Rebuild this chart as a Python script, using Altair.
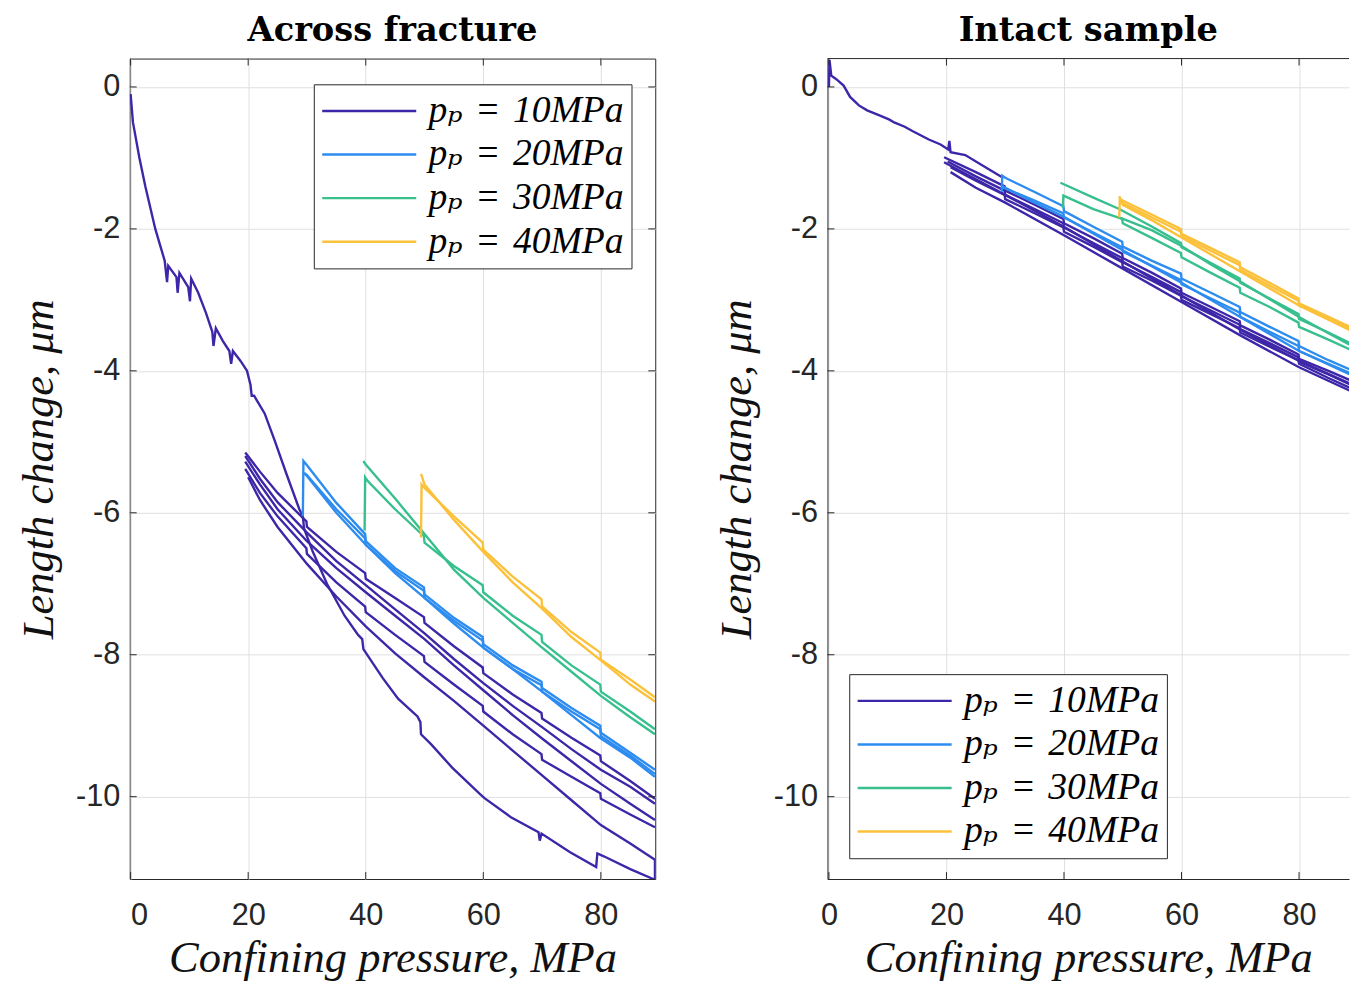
import altair as alt
import pandas as pd

# ---------------- data ----------------
PP_NAMES = ["p\u209a\u2004=\u200410MPa", "p\u209a\u2004=\u200420MPa",
            "p\u209a\u2004=\u200430MPa", "p\u209a\u2004=\u200440MPa"]
PP_COLORS = ["#3e26a8", "#2d8cf0", "#37bf8d", "#fbc13a"]
X_TICKS = [0, 20, 40, 60, 80]
Y_TICKS = [0, -2, -4, -6, -8, -10]
Y_DOMAIN = [-11.16, 0.40]
X_DOMAIN_LEFT = [-0.15, 89.25]
X_DOMAIN_RIGHT = [-0.25, 88.5]

# ---- Across fracture (left) ----
L_P10_FIRST = [(0.0, -0.1), (0.4, -0.5), (1.5, -1.0), (2.5, -1.4), (4.2, -2.0), (5.8, -2.45),
               (6.2, -2.75), (6.4, -2.52), (7.8, -2.68), (8.0, -2.9), (8.3, -2.62), (9.8, -2.82),
               (10.1, -3.02), (10.3, -2.7), (11.5, -2.9), (12.8, -3.18), (13.9, -3.45), (14.1, -3.65),
               (14.5, -3.4), (15.7, -3.58), (16.8, -3.72), (17.1, -3.9), (17.4, -3.72), (18.7, -3.86),
               (19.8, -4.0), (20.4, -4.2), (20.6, -4.35), (21.0, -4.35), (22.8, -4.6), (24.5, -4.98),
               (26.5, -5.45), (28.7, -5.95), (29.3, -6.05), (29.5, -6.22), (31.0, -6.55), (33.4, -7.0),
               (36.4, -7.45), (38.7, -7.72), (39.4, -7.78), (39.6, -7.92), (42.9, -8.33), (45.5, -8.62),
               (48.8, -8.87), (49.3, -8.95), (49.4, -9.12), (51.1, -9.26), (54.7, -9.59), (59.4, -9.96),
               (60.2, -10.02), (64.7, -10.29), (69.4, -10.5), (69.6, -10.62), (69.9, -10.52), (74.7, -10.78),
               (79.2, -10.99), (79.4, -10.8), (80.5, -10.84), (85.0, -11.02), (89.2, -11.17), (89.2, -10.89)]
L_P10_C1 = [(19.5, -5.15), (22, -5.42), (25, -5.72), (29.9, -6.12), (30, -6.2), (35, -6.55), (39.9, -6.85),
            (40, -6.93), (45, -7.2), (49.9, -7.47), (50, -7.55), (55, -7.88), (59.9, -8.18), (60, -8.26),
            (65, -8.56), (69.9, -8.82), (70, -8.9), (75, -9.17), (79.9, -9.42), (80, -9.5), (85, -9.78),
            (89.2, -10.03)]
L_P10_C2 = [(89.2, -10.1), (85, -9.86), (80, -9.62), (75, -9.33), (70, -9.02), (65, -8.72), (60, -8.4),
            (55, -8.06), (50, -7.7), (45, -7.36), (40, -7.02), (35, -6.68), (30, -6.28), (25, -5.85),
            (22, -5.52), (19.5, -5.2)]
L_P10_C3 = [(19.5, -5.38), (22, -5.72), (25, -6.05), (29.9, -6.5), (30, -6.58), (35, -6.98), (39.9, -7.32),
            (40, -7.4), (45, -7.72), (49.9, -8.02), (50, -8.1), (55, -8.42), (59.9, -8.72), (60, -8.8),
            (65, -9.12), (69.9, -9.4), (70, -9.48), (75, -9.72), (79.9, -9.95), (80, -10.03), (85, -10.25),
            (89.2, -10.43)]
L_P10_C4 = [(89.2, -10.33), (85, -10.1), (80, -9.82), (75, -9.5), (70, -9.18), (65, -8.85), (60, -8.5),
            (55, -8.15), (50, -7.78), (45, -7.45), (40, -7.12), (35, -6.78), (30, -6.4), (25, -5.95),
            (22, -5.6), (19.5, -5.28)]
L_P10_C5 = [(89.2, -10.89), (85, -10.66), (80, -10.4), (75, -10.05), (70, -9.7), (65, -9.35), (60, -9.0),
            (55, -8.65), (50, -8.32), (45, -7.98), (40, -7.6), (35, -7.18), (30, -6.72), (25, -6.2),
            (22, -5.82), (20, -5.5)]
L_P20_B1 = [(29.3, -6.05), (29.4, -5.27), (30.0, -5.33), (35, -5.86), (39.9, -6.3), (40.0, -6.4), (45, -6.78),
            (49.9, -7.05), (50.0, -7.15), (55, -7.48), (59.9, -7.75), (60.0, -7.85), (65, -8.15), (69.9, -8.38),
            (70.0, -8.47), (75, -8.75), (79.9, -9.0), (80.0, -9.1), (85, -9.38), (89.2, -9.62)]
L_P20_B2 = [(89.2, -9.72), (85, -9.45), (80, -9.18), (75, -8.85), (70, -8.52), (65, -8.2), (60, -7.9),
            (55, -7.56), (50, -7.2), (45, -6.85), (40, -6.45), (35, -6.0), (30.0, -5.48), (29.5, -5.44)]
L_P20_B3 = [(29.5, -5.44), (30, -5.47), (35, -5.95), (39.9, -6.36), (40, -6.45), (45, -6.82), (49.9, -7.1),
            (50, -7.2), (55, -7.52), (59.9, -7.8), (60, -7.9), (65, -8.2), (69.9, -8.43), (70, -8.52),
            (75, -8.8), (79.9, -9.05), (80, -9.15), (85, -9.42), (89.2, -9.68)]
L_P30_G1 = [(39.8, -6.25), (39.9, -5.5), (40.3, -5.55), (45, -5.95), (49.9, -6.33), (50.0, -6.42), (55, -6.75),
            (59.9, -7.02), (60.0, -7.12), (65, -7.45), (69.9, -7.72), (70.0, -7.82), (75, -8.15), (79.9, -8.42),
            (80.0, -8.52), (85, -8.8), (89.2, -9.05)]
L_P30_G2 = [(89.2, -9.12), (85, -8.88), (80, -8.58), (75, -8.24), (70, -7.9), (65, -7.55), (60, -7.2),
            (55, -6.8), (50, -6.3), (45, -5.8), (40, -5.32), (39.6, -5.27)]
L_P40_O1 = [(49.4, -6.35), (49.5, -5.6), (50.0, -5.65), (55, -6.05), (59.9, -6.42), (60.0, -6.52), (65, -6.9),
            (69.9, -7.22), (70.0, -7.32), (75, -7.68), (79.9, -7.97), (80.0, -8.07), (85, -8.35), (89.2, -8.6)]
L_P40_O2 = [(89.2, -8.66), (85, -8.42), (80, -8.08), (75, -7.75), (70, -7.35), (65, -6.98), (60, -6.55),
            (55, -6.1), (50, -5.6), (49.4, -5.45)]

# ---- Intact sample (right) ----
R_P10_FIRST = [(0.0, 0.0), (0.1, 0.38), (0.4, 0.16), (0.9, 0.13), (1.4, 0.1), (2.5, 0.02), (3.6, -0.14),
               (5.1, -0.26), (6.5, -0.33), (8.6, -0.4), (10.3, -0.46), (11.1, -0.5), (12.9, -0.56),
               (14.2, -0.62), (17.0, -0.74), (19.0, -0.81), (20.3, -0.88), (20.5, -0.76), (20.7, -0.92),
               (23.2, -0.96), (26.0, -1.1), (29.4, -1.27)]
R_P10_C1 = [(19.6, -0.99), (25, -1.2), (29.9, -1.4), (30, -1.46), (35, -1.66), (39.9, -1.86), (40, -1.92),
            (45, -2.13), (49.9, -2.35), (50, -2.41), (55, -2.62), (59.9, -2.84), (60, -2.9), (65, -3.1),
            (69.9, -3.3), (70, -3.36), (75, -3.56), (79.9, -3.77), (80, -3.83), (85, -4.0), (89.2, -4.15)]
R_P10_C2 = [(89.2, -4.2), (80, -3.86), (70, -3.42), (60, -2.94), (50, -2.46), (40, -1.97), (30, -1.52),
            (25, -1.3), (19.6, -1.06)]
R_P10_C3 = [(20.7, -1.13), (25, -1.32), (29.9, -1.52), (30, -1.58), (35, -1.78), (39.9, -1.98), (40, -2.04),
            (45, -2.25), (49.9, -2.47), (50, -2.53), (55, -2.73), (59.9, -2.94), (60, -3.0), (65, -3.2),
            (69.9, -3.4), (70, -3.46), (75, -3.66), (79.9, -3.85), (80, -3.9), (85, -4.1), (89.2, -4.26)]
R_P10_C4 = [(89.2, -4.3), (80, -3.95), (70, -3.5), (60, -3.03), (50, -2.56), (40, -2.09), (30, -1.63),
            (25, -1.42), (20.7, -1.2)]
R_P10_C5 = [(20.2, -1.05), (25, -1.26), (29.9, -1.46), (30, -1.52), (35, -1.72), (39.9, -1.92), (40, -1.98),
            (45, -2.2), (49.9, -2.41), (50, -2.47), (55, -2.68), (59.9, -2.89), (60, -2.95), (65, -3.15),
            (69.9, -3.35), (70, -3.41), (75, -3.61), (79.9, -3.81), (80, -3.87), (85, -4.05), (89.2, -4.21)]
R_P20_B1 = [(29.4, -1.48), (29.5, -1.25), (30, -1.28), (35, -1.48), (39.9, -1.68), (40, -1.75), (45, -1.97),
            (49.9, -2.18), (50, -2.25), (55, -2.45), (59.9, -2.63), (60, -2.7), (65, -2.9), (69.9, -3.1),
            (70, -3.17), (75, -3.38), (79.9, -3.58), (80, -3.65), (85, -3.85), (89.2, -4.0)]
R_P20_B2 = [(89.2, -4.07), (80, -3.72), (70, -3.24), (60, -2.76), (50, -2.3), (40, -1.83), (35, -1.63),
            (30, -1.42), (29.5, -1.4)]
R_P20_B3 = [(29.5, -1.4), (30, -1.43), (35, -1.6), (39.9, -1.78), (40, -1.84), (45, -2.05), (49.9, -2.26),
            (50, -2.32), (55, -2.52), (59.9, -2.72), (60, -2.78), (65, -2.98), (69.9, -3.18), (70, -3.24),
            (75, -3.45), (79.9, -3.65), (80, -3.72), (85, -3.9), (89.2, -4.05)]
R_P30_G1 = [(39.4, -1.35), (45, -1.56), (49.4, -1.72), (55, -1.97), (59.9, -2.2), (60, -2.26), (65, -2.48),
            (69.9, -2.7), (70, -2.76), (75, -2.98), (79.9, -3.2), (80, -3.27), (85, -3.46), (89.2, -3.63)]
R_P30_G2 = [(39.8, -1.7), (39.9, -1.53), (45, -1.72), (49.9, -1.86), (50, -1.92), (55, -2.13), (59.9, -2.34),
            (60, -2.4), (65, -2.62), (69.9, -2.83), (70, -2.9), (75, -3.1), (79.9, -3.32), (80, -3.38),
            (85, -3.56), (89.2, -3.72)]
R_P30_G3 = [(49.5, -1.84), (55, -2.02), (60, -2.24), (65, -2.5), (70, -2.74), (75, -2.99), (80, -3.24),
            (85, -3.47), (89.2, -3.66)]
R_P40_O1 = [(49.4, -1.84), (49.5, -1.58), (50, -1.6), (55, -1.8), (59.9, -2.0), (60, -2.07), (65, -2.27),
            (69.9, -2.47), (70, -2.54), (75, -2.76), (79.9, -2.98), (80, -3.05), (85, -3.24), (89.2, -3.4)]
R_P40_O2 = [(89.2, -3.45), (80, -3.08), (70, -2.6), (60, -2.12), (55, -1.88), (50, -1.66), (49.4, -1.54)]
R_P40_O3 = [(49.6, -1.62), (55, -1.84), (59.9, -2.04), (60, -2.1), (65, -2.31), (69.9, -2.51), (70, -2.58),
            (75, -2.8), (79.9, -3.01), (80, -3.08), (85, -3.27), (89.2, -3.43)]

LEFT_CURVES = [(0, L_P10_FIRST), (0, L_P10_C1), (0, L_P10_C2), (0, L_P10_C3), (0, L_P10_C4), (0, L_P10_C5),
               (1, L_P20_B1), (1, L_P20_B2), (1, L_P20_B3),
               (2, L_P30_G1), (2, L_P30_G2),
               (3, L_P40_O1), (3, L_P40_O2)]
RIGHT_CURVES = [(0, R_P10_FIRST), (0, R_P10_C1), (0, R_P10_C2), (0, R_P10_C3), (0, R_P10_C4), (0, R_P10_C5),
                (1, R_P20_B1), (1, R_P20_B2), (1, R_P20_B3),
                (2, R_P30_G1), (2, R_P30_G2), (2, R_P30_G3),
                (3, R_P40_O1), (3, R_P40_O2), (3, R_P40_O3)]

# ---------------- styling ----------------
AX = "#262626"
H = 829
W_LEFT = 531
W_RIGHT = 527
SERIF_IT = "Liberation Serif, DejaVu Serif, serif"
TICK_LEN = 7


def to_frame(curves):
    rows = []
    for cid, (k, pts) in enumerate(curves):
        for i, (x, y) in enumerate(pts):
            rows.append({"x": x, "y": y, "pp": PP_NAMES[k], "cid": cid, "i": i})
    return pd.DataFrame(rows)


def panel(curves, title, xdom, width, lx, ly, boxed):
    df = to_frame(curves)
    xaxis = alt.Axis(values=X_TICKS, title="Confining pressure,  MPa", grid=True, ticks=False,
                     domain=not boxed, domainColor=AX, labelExpr="'' + datum.value",
                     labelPadding=22, titlePadding=5, titleFontSize=45)
    yaxis = alt.Axis(values=Y_TICKS, title="Length change,  μm", grid=True, ticks=False,
                     domain=not boxed, domainColor=AX, labelExpr="'' + datum.value",
                     labelPadding=10, titlePadding=14, titleFontSize=45)
    X = alt.X("x:Q", scale=alt.Scale(domain=xdom, nice=False, zero=False), axis=xaxis)
    Y = alt.Y("y:Q", scale=alt.Scale(domain=Y_DOMAIN, nice=False, zero=False), axis=yaxis)
    legend = alt.Legend(title=None, orient="none", legendX=lx, legendY=ly, symbolType="stroke",
                        symbolSize=9025, symbolStrokeWidth=2.5, clipHeight=40, rowPadding=4,
                        labelOffset=11, padding=7, strokeColor=AX, fillColor="white",
                        labelFont=SERIF_IT, labelFontSize=38, labelFontStyle="italic",
                        labelColor="black", labelLimit=600, cornerRadius=0)
    lines = alt.Chart(df).mark_line(strokeWidth=2.4, clip=True).encode(
        x=X, y=Y,
        color=alt.Color("pp:N", scale=alt.Scale(domain=PP_NAMES, range=PP_COLORS), legend=legend),
        detail="cid:N",
        order="i:Q",
    )
    xt = pd.DataFrame({"x": X_TICKS})
    yt = pd.DataFrame({"y": Y_TICKS})
    layers = [lines]
    layers.append(alt.Chart(xt).mark_rule(color=AX, strokeWidth=1).encode(
        x=X, y=alt.value(H), y2=alt.value(H - TICK_LEN)))
    layers.append(alt.Chart(xt).mark_rule(color=AX, strokeWidth=1).encode(
        x=X, y=alt.value(0), y2=alt.value(TICK_LEN)))
    layers.append(alt.Chart(yt).mark_rule(color=AX, strokeWidth=1).encode(
        y=Y, x=alt.value(0), x2=alt.value(TICK_LEN)))
    if boxed:
        layers.append(alt.Chart(yt).mark_rule(color=AX, strokeWidth=1).encode(
            y=Y, x=alt.value(width - TICK_LEN), x2=alt.value(width)))
        view = alt.ViewBackground(stroke=AX, strokeWidth=1)
    else:
        layers.append(alt.Chart(pd.DataFrame({"b": [0]})).mark_rule(color=AX, strokeWidth=1).encode(
            x=alt.value(0), x2=alt.value(width), y=alt.value(0)))
        view = alt.ViewBackground(stroke="transparent")
    return alt.layer(*layers).properties(
        width=width, height=H, view=view,
        title=alt.Title(title, font="DejaVu Serif", fontSize=34, fontWeight="bold",
                        color="black", anchor="middle", offset=10),
    )


left = panel(LEFT_CURVES, "Across fracture", X_DOMAIN_LEFT, W_LEFT, 186, 26, True)
right = panel(RIGHT_CURVES, "Intact sample", X_DOMAIN_RIGHT, W_RIGHT, 22, 622, False)

chart = alt.hconcat(left, right, spacing=58).resolve_legend(color="independent").properties(
    padding={"left": 8, "top": 1, "right": 0, "bottom": 0}
).configure_axis(
    labelFont="Liberation Sans", labelFontSize=31, labelColor=AX,
    titleFont=SERIF_IT, titleFontStyle="italic", titleFontWeight="normal",
    titleColor="#111111", gridColor="#e0e0e0", gridWidth=1,
).configure_view(strokeWidth=1)

chart.save("out.html", embed_options={"renderer": "svg", "actions": False})
